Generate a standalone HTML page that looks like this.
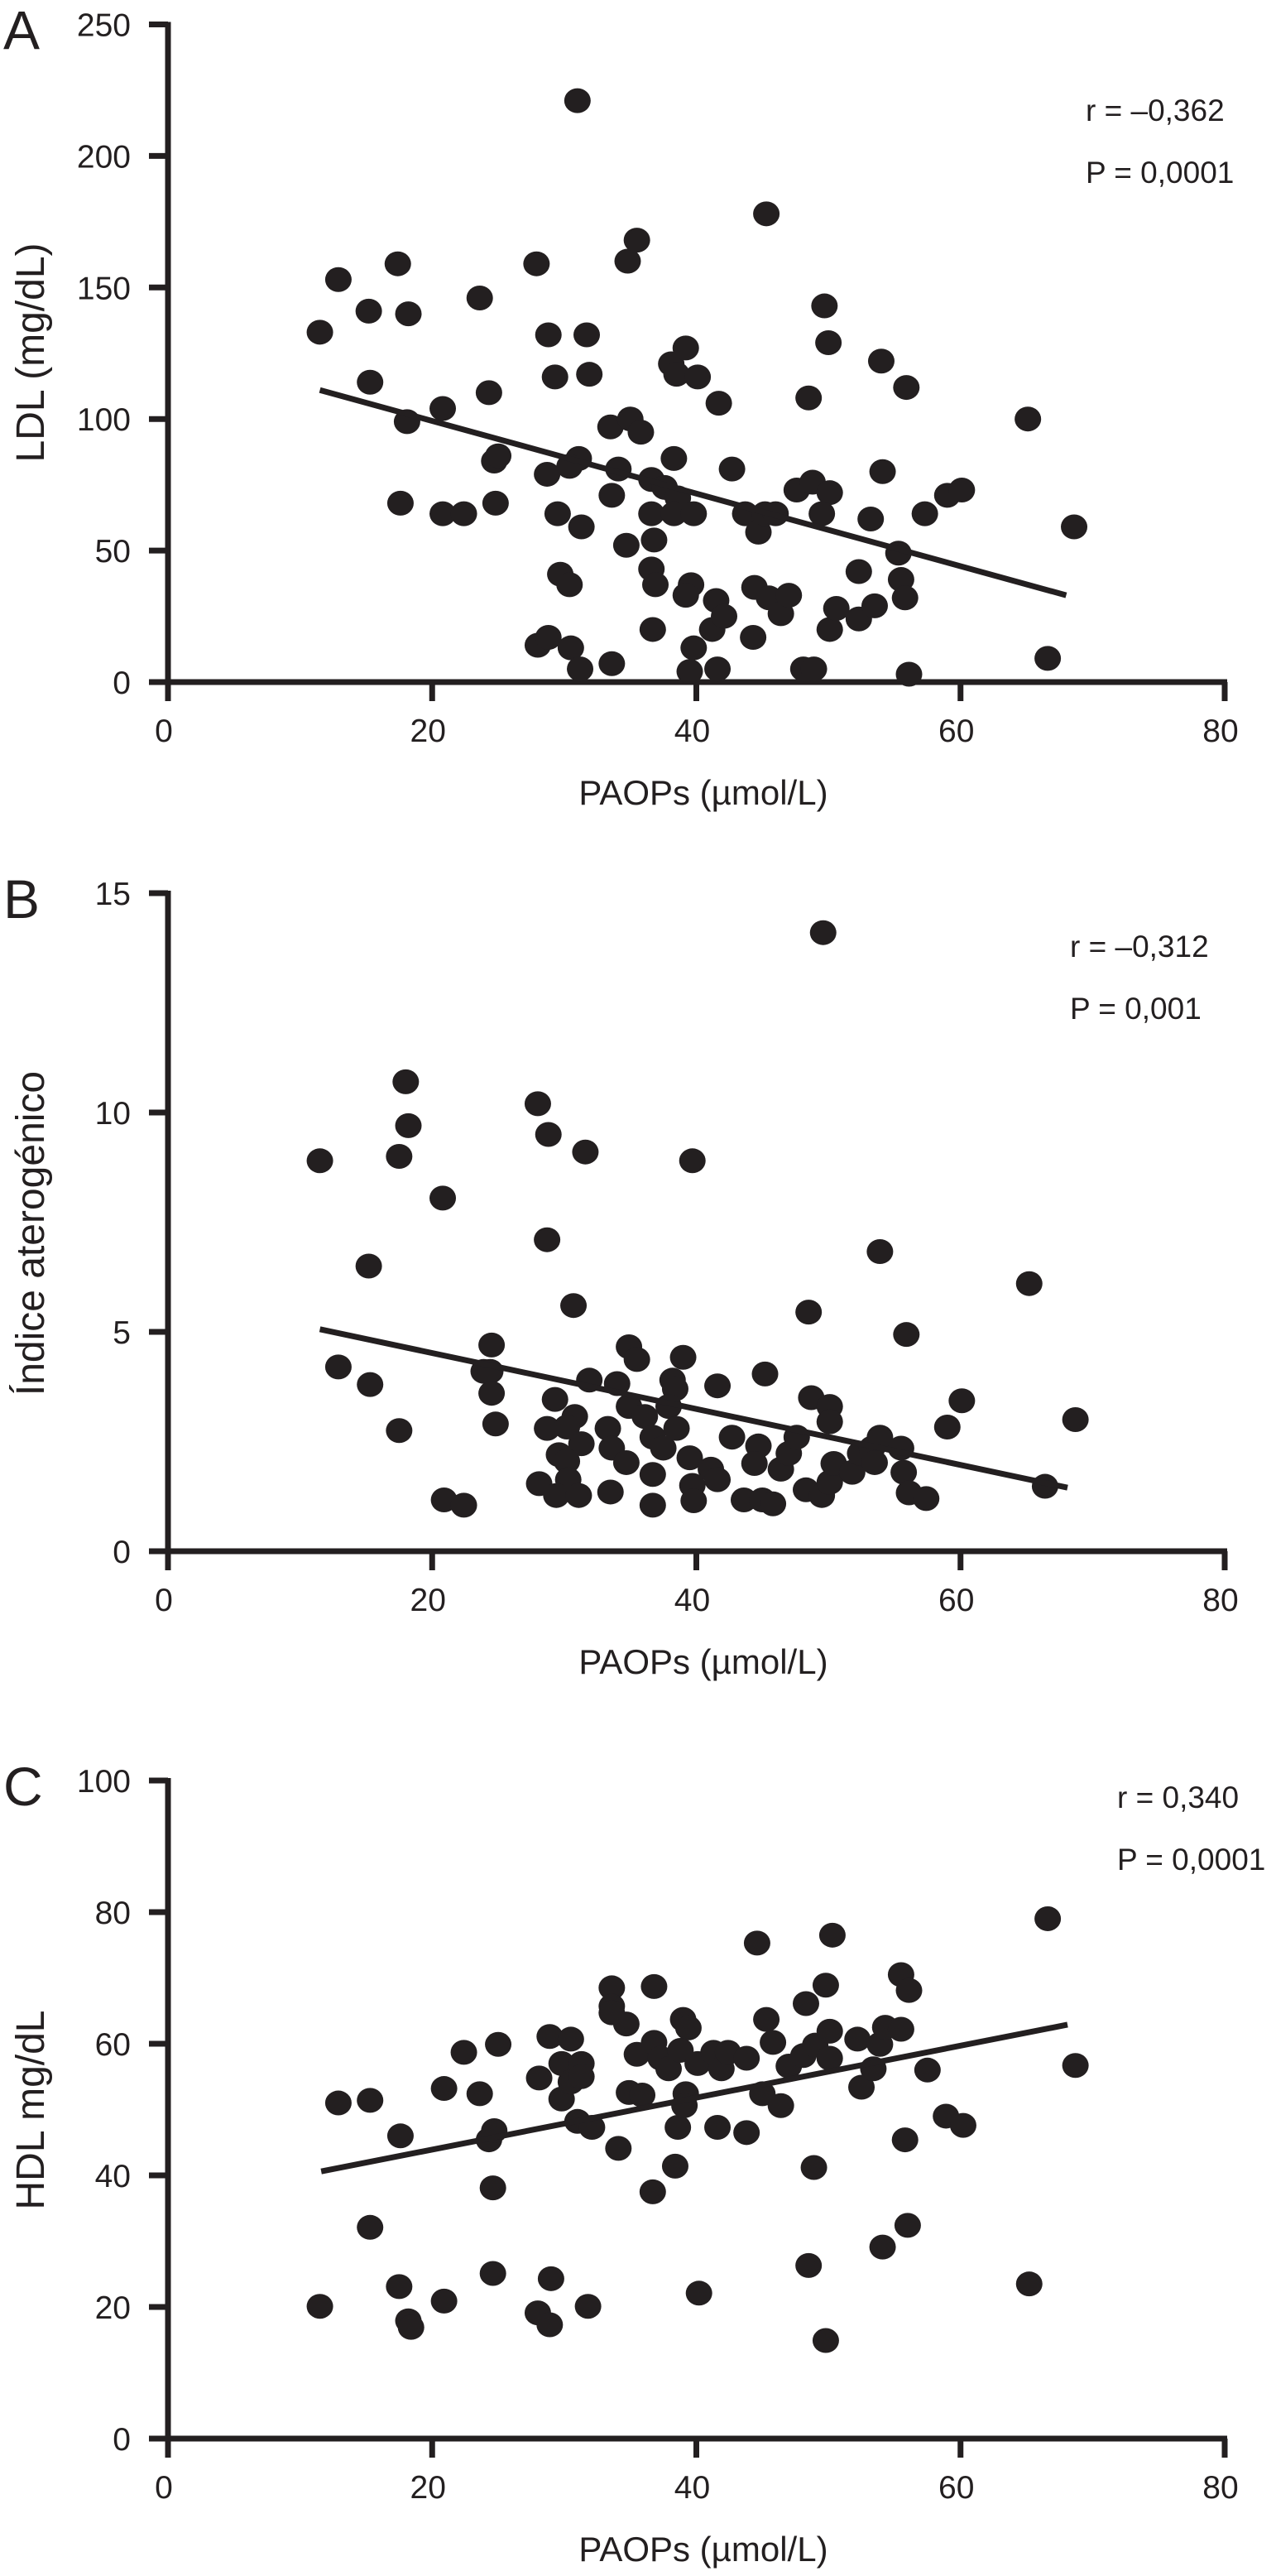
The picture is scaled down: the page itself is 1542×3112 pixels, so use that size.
<!DOCTYPE html>
<html><head><meta charset="utf-8">
<style>
html,body{margin:0;padding:0;background:#fff;}
svg{display:block;}
text{font-family:"Liberation Sans",sans-serif;fill:#231f20;}
</style></head>
<body>
<svg id="fig" width="1542" height="3112" viewBox="0 0 1542 3112"></svg>
<script>
// Shared x values (PAOPs, µmol/L) per panel
const xTicks = [0, 20, 40, 60, 80];
const aTicks = [0, 50, 100, 150, 200, 250];
const bTicks = [0, 5, 10, 15];
const cTicks = [0, 20, 40, 60, 80, 100];

const aX = [11.5,12.9,15.2,15.3,17.4,18.2,17.6,18.1,20.8,20.8,22.4,23.6,24.3,24.7,25,24.8,27.9,28.8,29.3,28.7,29.5,29.7,30.4,28,28.8,30.5,31.2,31,31.7,31.9,31.1,30.4,31.3,33.6,33.5,34.1,33.6,34.7,34.8,35.5,35,35.8,36.6,37.6,36.6,36.8,36.6,36.9,36.7,38.1,38.5,39.2,38.3,38.6,38.3,39.8,40.1,39.6,39.2,39.8,39.5,41.5,41.2,42.1,41.6,41.7,42.7,43.7,44.3,44.4,44.7,45.2,46,45.3,45.5,46.4,47,47.6,48.5,48.8,50.1,49.5,48.1,48.9,49.7,50,50.1,50.6,52.3,52.3,53.2,53.5,54,54.1,55.3,55.5,55.8,55.9,56.1,57.3,59,60.1,65.1,66.6,68.6];
const aY = [133,153,141,114,159,140,68,99,104,64,64,146,110,84,86,68,159,132,116,79,64,41,37,14,17,13,5,221,132,117,85,82,59,7,97,81,71,52,160,168,100,95,77,74,64,54,43,37,20,121,117,127,85,70,64,64,116,37,33,13,4,31,20,25,5,106,81,64,17,36,57,64,64,178,32,26,33,73,108,76,72,64,5,5,143,129,20,28,42,24,62,29,122,80,49,39,32,112,3,64,71,73,100,9,59];
const aLine = [[11.5,111],[68,33]];

const bX = [11.5,12.9,15.2,15.3,17.5,18,18.2,17.5,20.8,20.9,22.4,23.9,24.5,24.4,24.5,24.8,28,28.8,28.7,31.6,30.7,29.3,31.9,30.8,28.7,30.2,31.3,29.6,30.2,28.1,30.3,29.4,31.1,33.5,33.3,33.6,34,34.7,34.9,35.5,34.9,36.1,36.7,36.7,36.7,37.5,38.2,38.4,37.9,38.5,39,39.7,39.5,39.7,39.8,41.1,41.6,41.6,42.7,43.6,44.7,44.4,45.2,45,45.8,46.4,47,47.6,48.5,48.7,50.1,50.1,48.3,49.5,50.1,50.4,49.6,51.8,52.4,53.3,53.9,53.9,53.5,55.5,55.7,55.9,56.1,57.4,59,60.1,65.2,66.4,68.7];
const bY = [8.9,4.2,6.5,3.8,9.0,10.7,9.7,2.75,8.05,1.17,1.05,4.1,4.7,4.1,3.6,2.9,10.2,9.5,7.1,9.1,5.6,3.46,3.9,3.07,2.8,2.83,2.45,2.2,2.05,1.54,1.63,1.27,1.27,1.35,2.8,2.35,3.82,2.02,4.66,4.37,3.3,3.07,2.6,1.75,1.05,2.35,3.9,3.7,3.3,2.8,4.42,8.9,2.13,1.5,1.15,1.87,1.63,3.77,2.6,1.17,2.4,2.0,4.04,1.17,1.08,1.87,2.23,2.6,5.45,3.5,3.3,2.95,1.4,1.27,1.57,2.0,14.1,1.8,2.23,2.35,2.6,6.83,2.02,2.35,1.8,4.94,1.33,1.2,2.83,3.43,6.1,1.48,3.0];
const bLine = [[11.5,5.06],[68.1,1.45]];

const cX = [11.5,12.9,15.3,15.3,17.6,17.5,18.2,18.4,20.9,20.9,22.4,23.6,25,24.3,24.7,24.6,24.6,28.1,28.9,30.5,29.8,29,28,28.9,31.8,29.8,30.5,31.3,31.3,31,32.1,33.6,33.6,34.7,33.6,34.1,34.9,35.9,35.5,36.8,36.8,36.7,37.3,37.9,38.4,38.6,39,39.4,38.8,39.2,39.1,40.1,40.2,41.6,41.3,41.9,42.4,43.8,43.8,44.6,45,45.3,45.8,46.4,47,48.3,48.1,48.9,48.5,49,49.8,50.1,50.3,49.8,50.1,52.2,52.5,53.4,53.9,54.3,54.1,55.5,55.5,56.1,55.8,56,57.5,58.9,60.2,65.2,66.6,68.7];
const cY = [20.1,51,51.4,32.1,46,23.1,17.9,16.9,53.2,20.9,58.7,52.4,59.9,45.4,46.8,38.1,25.1,54.8,61.1,60.7,57,24.3,19.1,17.3,20.1,51.6,54.2,57,55,48.2,47.3,68.5,65.7,63,64.7,44.1,52.6,52.2,58.4,68.7,60.2,37.5,57.8,56.2,41.4,47.3,63.7,62.4,59,52.4,50.6,57,22.1,47.3,58.7,56.2,58.7,57.8,46.5,75.3,52.4,63.7,60.2,50.6,56.6,66.1,58.2,41.2,26.3,59.8,68.9,61.9,76.5,14.9,57.8,60.7,53.4,56.2,59.9,62.5,29.1,70.5,62.2,68.1,45.4,32.4,56,49,47.6,23.5,79,56.7];
const cLine = [[11.6,40.6],[68.1,62.9]];

const NS = "http://www.w3.org/2000/svg";
const svg = document.getElementById("fig");
function mk(tag, attrs, parent) {
  const e = document.createElementNS(NS, tag);
  for (const k in attrs) e.setAttribute(k, attrs[k]);
  (parent || svg).appendChild(e);
  return e;
}

function panel(cfg) {
  const g = mk("g", {});
  
  
  const X0 = 203, X1 = 1480;
  const sx = v => X0 + (v - 0) / 80 * (X1 - X0);
  const sy = v => cfg.y0 + (v - 0) / cfg.ymax * (cfg.ytop - cfg.y0);

  const L = mk("text", {x: 4, y: cfg.ytop + 30, "font-size": 66}, g);
  L.textContent = cfg.letter;
  
  

  const ya = mk("line", {x1: X0, y1: cfg.ytop - 3, x2: X0, y2: cfg.y0 + 23, stroke: "#231f20", "stroke-width": 7}, g);
  
  
  const xa = mk("line", {x1: X0 - 23, y1: cfg.y0, x2: X1 + 3, y2: cfg.y0, stroke: "#231f20", "stroke-width": 7}, g);
  
  

  cfg.yTicks.forEach(t => {
    const y = sy(t);
    const tk = mk("line", {x1: X0 - 23, y1: y, x2: X0, y2: y, stroke: "#231f20", "stroke-width": 7}, g);
    
    
    const tl = mk("text", {x: 158, y: y + 14, "font-size": 39, "text-anchor": "end"}, g);
    tl.textContent = t;
    
    
  });
  xTicks.forEach(t => {
    const x = sx(t);
    const tk = mk("line", {x1: x, y1: cfg.y0, x2: x, y2: cfg.y0 + 23, stroke: "#231f20", "stroke-width": 7}, g);
    
    
    const tl = mk("text", {x: x - 5, y: cfg.y0 + 72, "font-size": 39, "text-anchor": "middle"}, g);
    tl.textContent = t;
    
    
  });

  const xt = mk("text", {x: 850, y: cfg.y0 + 148, "font-size": 42, "text-anchor": "middle"}, g);
  xt.textContent = "PAOPs (\u00b5mol/L)";
  
  

  const yt = mk("text", {x: 0, y: 0, "font-size": 48, "text-anchor": "middle", transform: "translate(53," + cfg.tc + ") rotate(-90)"}, g);
  yt.textContent = cfg.ytitle;
  
  

  cfg.xs.forEach((v, i) => {
    const c = mk("ellipse", {cx: sx(v), cy: sy(cfg.ys[i]), rx: 16, ry: 15, fill: "#231f20"}, g);
    
    
  });

  const rl = mk("line", {x1: sx(cfg.line[0][0]), y1: sy(cfg.line[0][1]), x2: sx(cfg.line[1][0]), y2: sy(cfg.line[1][1]), stroke: "#231f20", "stroke-width": 7}, g);
  
  

  const r = mk("text", {x: cfg.tx, y: cfg.ry, "font-size": 37}, g);
  r.textContent = cfg.r;
  
  
  const p = mk("text", {x: cfg.tx, y: cfg.ry + 75, "font-size": 37}, g);
  p.textContent = cfg.p;
  
  
}

panel({name: "panel-a-ldl", letter: "A", y0: 824, ytop: 29.5, ymax: 250, yTicks: aTicks, ytitle: "LDL (mg/dL)", tc: 426,
  xs: aX, ys: aY, line: aLine, r: "r = \u20130,362", p: "P = 0,0001", tx: 1312, ry: 146});
panel({name: "panel-b-atherogenic", letter: "B", y0: 1874, ytop: 1079, ymax: 15, yTicks: bTicks, ytitle: "\u00cdndice aterog\u00e9nico", tc: 1490,
  xs: bX, ys: bY, line: bLine, r: "r = \u20130,312", p: "P = 0,001", tx: 1293, ry: 1156});
panel({name: "panel-c-hdl", letter: "C", y0: 2946, ytop: 2151, ymax: 100, yTicks: cTicks, ytitle: "HDL mg/dL", tc: 2549,
  xs: cX, ys: cY, line: cLine, r: "r = 0,340", p: "P = 0,0001", tx: 1350, ry: 2184});
</script>
</body></html>
